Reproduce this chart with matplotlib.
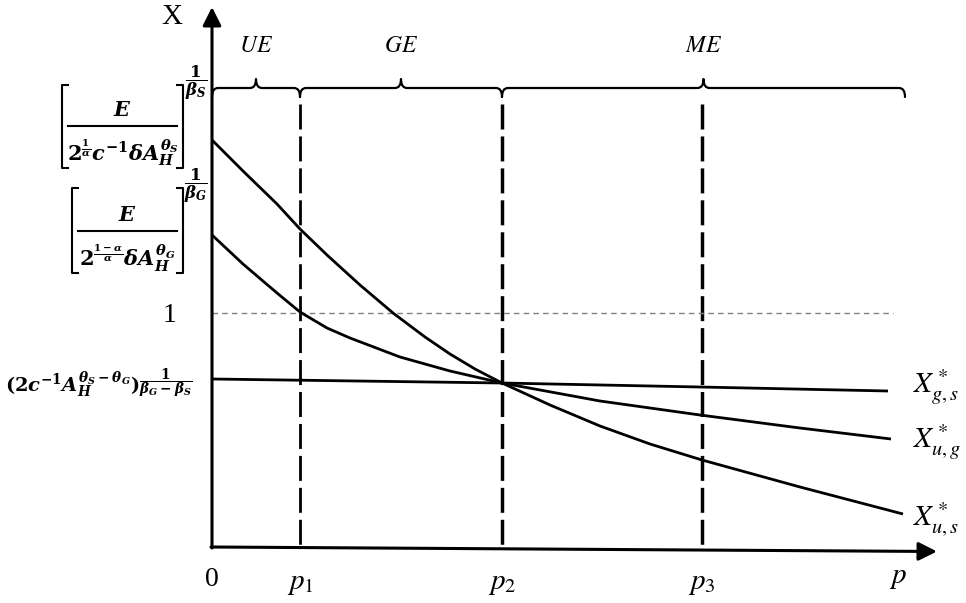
import matplotlib
matplotlib.use("Agg")
import matplotlib.pyplot as plt
from matplotlib.path import Path
from matplotlib.patches import PathPatch

# bold math for the left-hand expressions, plain stix for everything else
plt.rcParams['mathtext.fontset'] = 'custom'
plt.rcParams['mathtext.rm'] = 'DejaVu Serif:bold'
plt.rcParams['mathtext.it'] = 'DejaVu Serif:italic:bold'
plt.rcParams['mathtext.bf'] = 'DejaVu Serif:bold'
plt.rcParams['lines.scale_dashes'] = False

# positions on the p axis
p_ticks = [0.88, 2.90, 4.90]
p_labels = [r'$p_1$', r'$p_2$', r'$p_3$']

# regions above the chart
region_edges = [0.0, 0.88, 2.90, 6.93]
region_names = [r'$UE$', r'$GE$', r'$ME$']

# curves
x_us = [0, 0.31, 0.65, 0.88, 1.15, 1.48, 1.81, 2.13, 2.38, 2.63, 2.90,
        3.38, 3.88, 4.38, 4.90, 5.88, 6.91]
y_us = [4.07, 3.76, 3.43, 3.18, 2.92, 2.62, 2.34, 2.10, 1.93, 1.78, 1.64,
        1.42, 1.21, 1.03, 0.87, 0.60, 0.33]
x_ug = [0, 0.31, 0.65, 0.88, 1.15, 1.38, 1.88, 2.38, 2.90, 3.88, 4.88, 5.88, 6.79]
y_ug = [3.12, 2.83, 2.54, 2.35, 2.19, 2.09, 1.90, 1.76, 1.64, 1.46, 1.32, 1.19, 1.08]
x_gs = [0, 2.90, 4.88, 6.76]
y_gs = [1.68, 1.64, 1.60, 1.56]
curve_labels = [r'$X^*_{g,s}$', r'$X^*_{u,g}$', r'$X^*_{u,s}$']

level_one = 2.34

fig = plt.figure(figsize=(9.66, 6.03), dpi=100)
ax = fig.add_axes([0, 0, 1, 1])
ax.set_xlim(-2.12, 7.54)
ax.set_ylim(-0.56, 5.47)
ax.axis('off')

# axes with arrows
ax.annotate('', xy=(7.25, -0.045), xytext=(-0.01, 0),
            arrowprops=dict(arrowstyle='-|>', lw=2.2, color='k', mutation_scale=28,
                            shrinkA=0, shrinkB=0))
ax.annotate('', xy=(0, 5.40), xytext=(0, -0.01),
            arrowprops=dict(arrowstyle='-|>', lw=2.2, color='k', mutation_scale=28,
                            shrinkA=0, shrinkB=0))

# dashed verticals
for i, p in enumerate(p_ticks):
    lw = 2.0 if i == 0 else 2.5
    ax.plot([p, p], [4.43, 0], color='k', lw=lw, dashes=(18, 5), dash_capstyle='butt')

# level 1
ax.plot([0, 6.81], [level_one, level_one], color='#808080', lw=1.0, dashes=(4, 3))

# curves
for xs, ys in [(x_us, y_us), (x_ug, y_ug), (x_gs, y_gs)]:
    ax.plot(xs, ys, color='k', lw=2.0, solid_joinstyle='round', solid_capstyle='butt')


def brace(x0, x1, y, h=0.09, r=0.06):
    xm = (x0 + x1) / 2
    verts = [(x0, y - h), (x0, y), (x0 + r, y),
             (xm - r, y), (xm, y), (xm, y + h),
             (xm, y), (xm + r, y),
             (x1 - r, y), (x1, y), (x1, y - h)]
    codes = [Path.MOVETO, Path.CURVE3, Path.CURVE3,
             Path.LINETO, Path.CURVE3, Path.CURVE3,
             Path.CURVE3, Path.CURVE3,
             Path.LINETO, Path.CURVE3, Path.CURVE3]
    ax.add_patch(PathPatch(Path(verts, codes), fill=False, lw=1.6, ec='k',
                           capstyle='round', joinstyle='round'))
    return xm


for a, b, name in zip(region_edges[:-1], region_edges[1:], region_names):
    xm = brace(a, b, 4.59)
    ax.text(xm, 5.02, name, ha='center', va='center', fontsize=17, math_fontfamily='stix')


def bracket_frac(xl, xr, ytop, ybot, yline, denom, expo):
    s = 0.06
    ax.plot([xl + s, xl, xl, xl + s], [ytop, ytop, ybot, ybot], color='k', lw=1.5)
    ax.plot([xr - s, xr, xr, xr - s], [ytop, ytop, ybot, ybot], color='k', lw=1.5)
    ax.plot([xl + 0.06, xr - 0.06], [yline, yline], color='k', lw=1.5)
    xc = (xl + xr) / 2
    ax.text(xc, yline + 0.16, r'$E$', ha='center', va='center', fontsize=15)
    ax.text(xc, yline - 0.27, denom, ha='center', va='center', fontsize=15)
    ax.text(xr + 0.13, ytop + 0.02, expo, ha='center', va='center', fontsize=12)


# left expressions
bracket_frac(-1.50, -0.29, 4.62, 3.79, 4.21,
             r'$2^{\frac{1}{\alpha}}c^{-1}\delta A_H^{\theta_S}$', r'$\dfrac{1}{\beta_S}$')
bracket_frac(-1.40, -0.29, 3.59, 2.74, 3.16,
             r'$2^{\frac{1-\alpha}{\alpha}}\delta A_H^{\theta_G}$', r'$\dfrac{1}{\beta_G}$')
ax.text(-0.19, 1.63,
        r'$(2c^{-1}A_H^{\theta_S-\theta_G})^{\dfrac{1}{\beta_G-\beta_S}}$',
        ha='right', va='center', fontsize=14)

# axis labels
ax.text(-0.40, 5.30, 'X', ha='center', va='center', fontsize=21, family='Liberation Serif')
ax.text(6.86, -0.30, r'$p$', ha='center', va='center', fontsize=21, math_fontfamily='stix')
ax.text(0, -0.33, '0', ha='center', va='center', fontsize=20, family='Liberation Serif')
for p, lab in zip(p_ticks, p_labels):
    ax.text(p, -0.36, lab, ha='center', va='center', fontsize=21, math_fontfamily='stix')

ax.text(-0.42, level_one - 0.03, '1', ha='center', va='center', fontsize=20, family='Liberation Serif')

# curve labels
for y, lab in zip([1.60, 1.05, 0.27], curve_labels):
    ax.text(7.01, y, lab, ha='left', va='center', fontsize=21, math_fontfamily='stix')

fig.savefig('out.png', dpi=100)
